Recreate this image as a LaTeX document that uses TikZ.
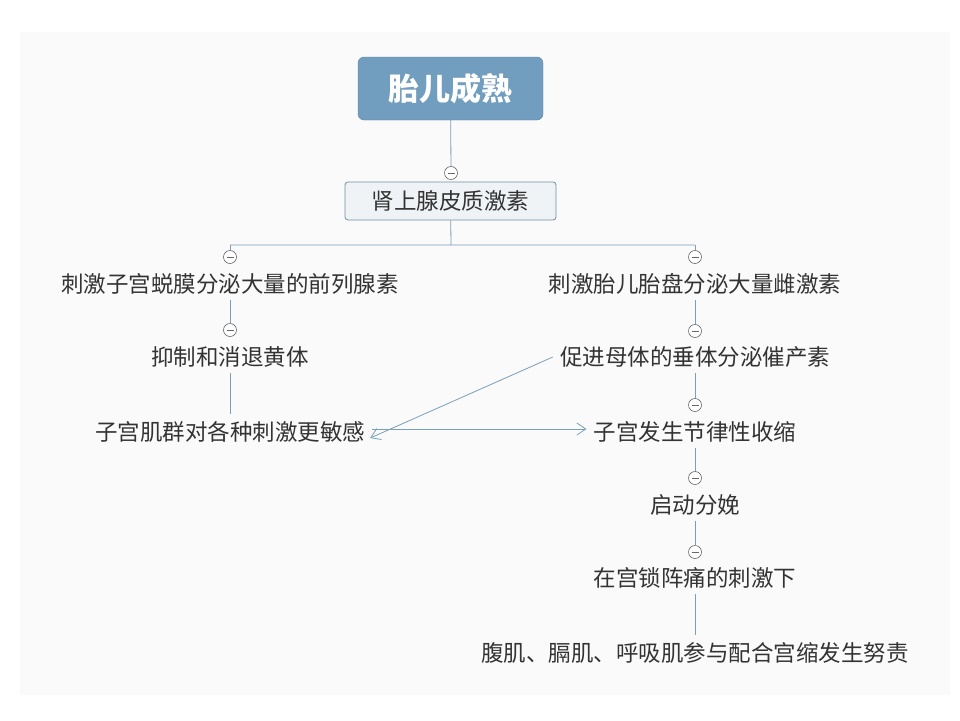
\documentclass[tikz,border=0pt]{standalone}
\usepackage{fontspec}
\setmainfont{Noto Sans CJK SC}
\usetikzlibrary{arrows.meta}
\definecolor{ln}{HTML}{7A9FB8}
\definecolor{rootc}{HTML}{719DBF}
\definecolor{tx}{HTML}{333333}
\tikzset{
 lbl/.style={text=tx,font=\fontsize{22.5}{26}\selectfont,inner sep=1pt},
 col/.style={circle,draw=gray!80!black,fill=white,line width=0.6pt,minimum size=13pt,inner sep=0pt,
   path picture={\draw[gray!80!black,line width=0.6pt] ([xshift=-3.5pt]path picture bounding box.center)--([xshift=3.5pt]path picture bounding box.center);}},
 cn/.style={draw=ln,line width=0.8pt},
 ar/.style={cn,-{Straight Barb[length=9pt,width=12pt]}}
}
\begin{document}
\begin{tikzpicture}[x=1pt,y=-1pt]
\useasboundingbox (0,0) rectangle (960,720);
\fill[white] (0,0) rectangle (960,720);
\fill[black!2] (20,32) rectangle (950,695);
\node[draw=rootc!85!black,fill=rootc,rounded corners=6pt,minimum width=185pt,minimum height=63pt,text=white,font=\fontsize{31}{36}\selectfont\bfseries] (root) at (450.5,88.5) {胎儿成熟};
\node[col] (c0) at (451,173) {};
\node[draw=ln!90!black,line width=0.8pt,fill=ln!12,rounded corners=3pt,minimum width=211pt,minimum height=38pt,text=tx,font=\fontsize{22.5}{26}\selectfont] (b) at (450.5,201) {肾上腺皮质激素};
\draw[cn] (root) -- (c0);
\coordinate (j) at (451,245);
\coordinate (jl) at (230,245);
\coordinate (jr) at (695,245);
\draw[cn] (b) -- (j) (jl) -- (jr);
\node[col] (cl1) at (230,257) {};
\node[col] (cr1) at (695,257) {};
\node[lbl] (l1) at (230,284) {刺激子宫蜕膜分泌大量的前列腺素};
\node[lbl] (r1) at (695,284) {刺激胎儿胎盘分泌大量雌激素};
\node[col] (cl2) at (230,330) {};
\node[lbl] (l2) at (230,357) {抑制和消退黄体};
\node[lbl] (l3) at (230,432) {子宫肌群对各种刺激更敏感};
\node[col] (cr2) at (695,331) {};
\node[lbl] (r2) at (695,357) {促进母体的垂体分泌催产素};
\node[col] (cr3) at (695,405) {};
\node[lbl] (r3) at (695,432) {子宫发生节律性收缩};
\node[col] (cr4) at (695,478) {};
\node[lbl] (r4) at (695,505) {启动分娩};
\node[col] (cr5) at (695,552) {};
\node[lbl] (r5) at (695,578) {在宫锁阵痛的刺激下};
\node[lbl] (r6) at (695,653) {腹肌、膈肌、呼吸肌参与配合宫缩发生努责};
\draw[cn] (jl)--(cl1) (jr)--(cr1);
\draw[cn] ([yshift=-4pt]l1.south) -- (cl2);
\draw[cn] ([yshift=-4pt]l2.south) -- ([yshift=6pt]l3.north);
\draw[cn] ([yshift=-4pt]r1.south) -- (cr2);
\draw[cn] ([yshift=-4pt]r2.south) -- (cr3);
\draw[cn] ([yshift=-4pt]r3.south) -- (cr4);
\draw[cn] ([yshift=-4pt]r4.south) -- (cr5);
\draw[cn] ([yshift=-4pt]r5.south) -- ([yshift=6pt]r6.north);
\draw[ar] ([xshift=-6pt]r2.west) -- ([xshift=4pt,yshift=-6pt]l3.east);
\draw[ar] ([xshift=6pt,yshift=3pt]l3.east) -- ([xshift=-6pt,yshift=3pt]r3.west);
\end{tikzpicture}
\end{document}
